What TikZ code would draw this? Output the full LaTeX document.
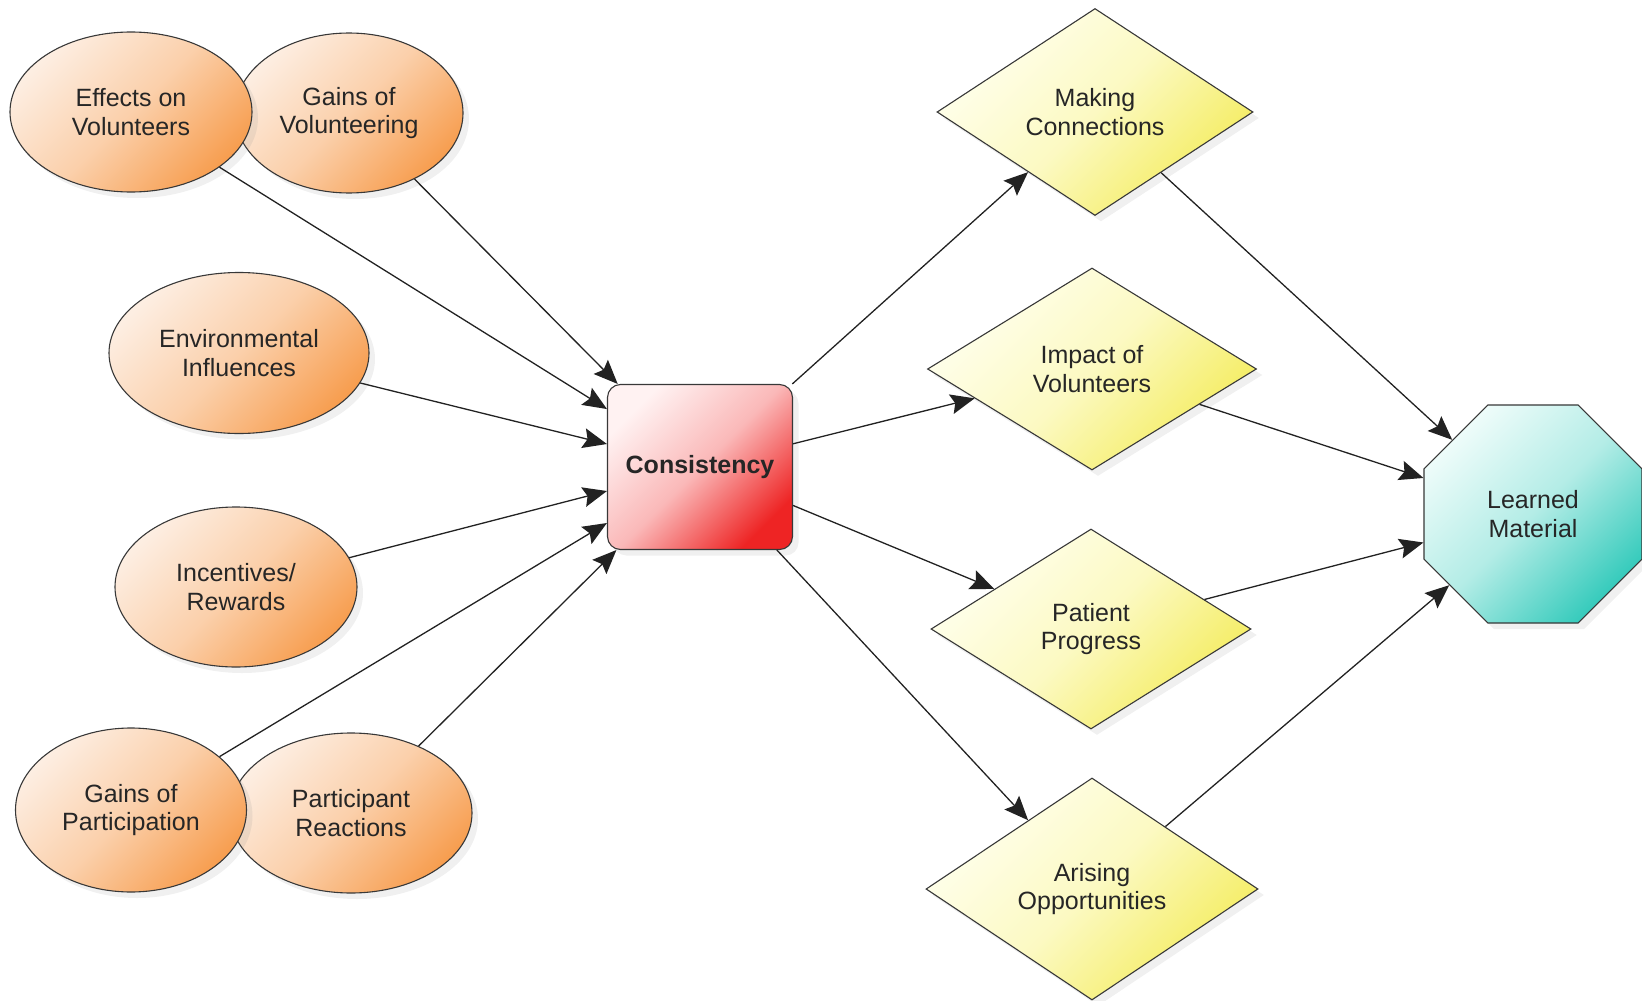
\documentclass[tikz,border=0pt]{standalone}
\usepackage{fontspec}
\setmainfont{Liberation Sans}
\usetikzlibrary{shapes.geometric,shadows,arrows.meta}
\definecolor{orL}{HTML}{FDEEE2}
\definecolor{orD}{HTML}{F79E50}
\definecolor{rdL}{HTML}{FFF2F2}
\definecolor{rdD}{HTML}{EE2424}
\definecolor{yeL}{HTML}{FFFFEE}
\definecolor{yeD}{HTML}{F4EC5C}
\definecolor{cyL}{HTML}{EEFCFA}
\definecolor{cyD}{HTML}{36CBBC}
\definecolor{edge}{HTML}{222222}
\tikzset{
  base/.style={draw=black!78, line width=1.1pt, text=black!85, align=center,
    inner sep=0pt, font=\fontsize{25}{28.5}\selectfont,
    drop shadow={opacity=0.12, shadow xshift=6pt, shadow yshift=-6pt}},
  oval/.style={base, ellipse, top color=orL, bottom color=orD, middle color=orL!62!orD, shading angle=45},
  hub/.style={base, rectangle, rounded corners=13pt, minimum width=185pt, minimum height=165pt,
    top color=rdL, bottom color=rdD, middle color=rdL!72!rdD, shading angle=45,
    font=\fontsize{25}{28.5}\selectfont\bfseries},
  gem/.style={base, diamond, top color=yeL, bottom color=yeD, middle color=yeL!70!yeD, shading angle=45},
  octo/.style={base, regular polygon, regular polygon sides=8, minimum size=236pt,
    top color=cyL, bottom color=cyD, middle color=cyL!68!cyD, shading angle=45},
  tipc/.tip={Stealth[length=24pt, width=20pt, inset=4pt]},
  arr/.style={draw=edge, line width=1.3pt, -tipc}
}
\begin{document}
\begin{tikzpicture}[x=1pt,y=-1pt]
\useasboundingbox (0,0) rectangle (1642,1001);
% left ellipses
\node[oval, minimum width=228pt, minimum height=160pt] (gvol) at (349,113) {Gains of\\Volunteering};
\node[oval, minimum width=242pt, minimum height=160pt] (eff) at (131,112) {Effects on\\Volunteers};
\node[oval, minimum width=260pt, minimum height=161pt] (env) at (239,353) {Environmental\\Influences};
\node[oval, minimum width=242pt, minimum height=160pt] (inc) at (236,587) {Incentives/\\Rewards};
\node[oval, minimum width=242pt, minimum height=160pt] (prea) at (351,813) {Participant\\Reactions};
\node[oval, minimum width=231pt, minimum height=164pt] (gpar) at (131,810) {Gains of\\Participation};
% hub
\node[hub] (cons) at (700,467) {Consistency};
% diamonds
\node[gem, minimum width=316pt, minimum height=207pt] (mk) at (1095,112) {Making\\Connections};
\node[gem, minimum width=329pt, minimum height=202pt] (imp) at (1092,369) {Impact of\\Volunteers};
\node[gem, minimum width=320pt, minimum height=200pt] (pat) at (1091,629) {Patient\\Progress};
\node[gem, minimum width=332pt, minimum height=222pt] (ari) at (1092,889) {Arising\\Opportunities};
% octagon
\node[octo] (lm) at (1533,514) {Learned\\Material};
% connectors
\draw[arr] (eff) -- (cons);
\draw[arr] (gvol) -- (cons);
\draw[arr] (env) -- (cons);
\draw[arr] (inc) -- (cons);
\draw[arr] (gpar) -- (cons);
\draw[arr] (prea) -- (cons);
\draw[arr] (cons) -- (mk);
\draw[arr] (cons) -- (imp);
\draw[arr] (cons) -- (pat);
\draw[arr] (cons) -- (ari);
\draw[arr] (mk) -- (lm);
\draw[arr] (imp) -- (lm);
\draw[arr] (pat) -- (lm);
\draw[arr] (ari) -- (lm);
\end{tikzpicture}
\end{document}
